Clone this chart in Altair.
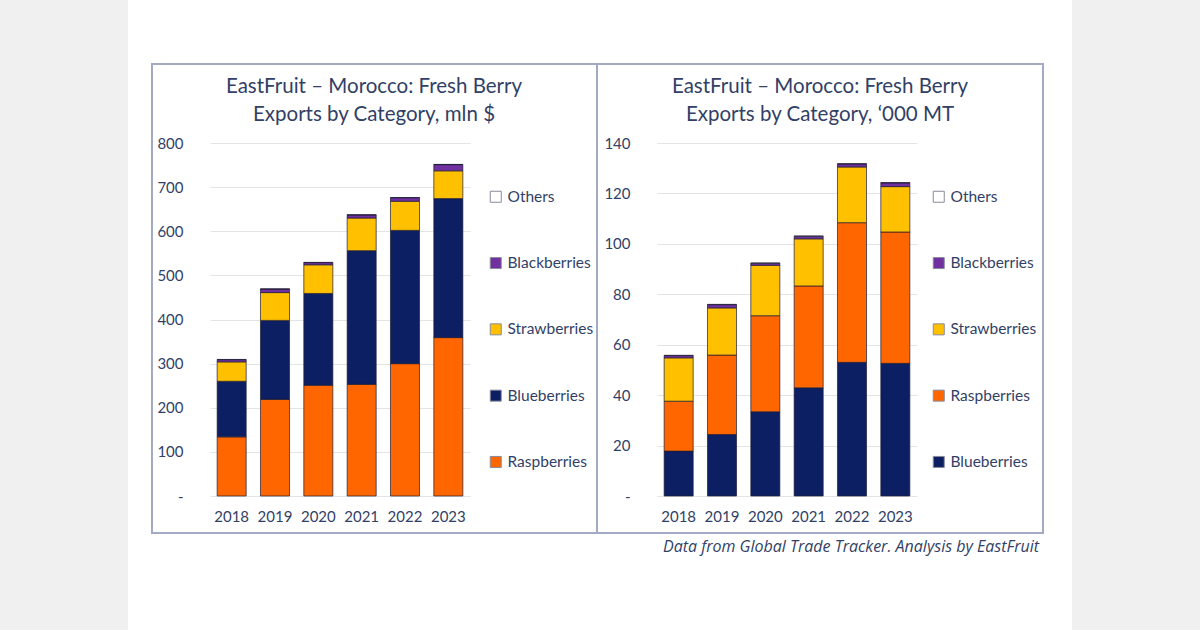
import altair as alt
import pandas as pd

FONT = "Lato"
TXT = "#323f66"

years = ["2018", "2019", "2020", "2021", "2022", "2023"]

# Panel 1: value, mln $
val_raspberries = [134, 219, 251, 253, 300, 359]
val_blueberries = [126, 179, 208, 303, 302, 315]
val_strawberries = [44, 63, 65, 74, 66, 63]
val_blackberries = [5, 8, 5, 7, 8, 14]
val_others = [0.5, 0.5, 0.5, 0.5, 0.5, 0.5]

# Panel 2: volume, '000 MT
vol_blueberries = [17.8, 24.4, 33.4, 42.9, 53.0, 52.6]
vol_raspberries = [19.8, 31.5, 38.1, 40.4, 55.4, 52.1]
vol_strawberries = [17.2, 18.7, 20.0, 18.7, 22.1, 18.0]
vol_blackberries = [0.9, 1.3, 0.8, 1.0, 1.2, 1.5]
vol_others = [0.1, 0.1, 0.1, 0.1, 0.1, 0.1]

COLORS = {
    "Others": "#ffffff",
    "Blackberries": "#7030a0",
    "Strawberries": "#ffc000",
    "Blueberries": "#0c1f63",
    "Raspberries": "#ff6600",
}

left_title = ["EastFruit \u2013 Morocco: Fresh Berry", "Exports by Category, mln $"]
right_title = ["EastFruit \u2013 Morocco: Fresh Berry", "Exports by Category, \u2018000 MT"]
footer = "Data from Global Trade Tracker. Analysis by EastFruit"


def panel(series, stack_order, ymax, ystep, title_lines, legend_x, title_x, border, strip, footer_text=None):
    rows = []
    for i, cat in enumerate(stack_order):
        for y, v in zip(years, series[cat]):
            rows.append({"year": y, "cat": cat, "value": v, "ord": i})
    df = pd.DataFrame(rows)
    legend_order = list(reversed(stack_order))
    one = pd.DataFrame({"a": [0]})

    bars = alt.Chart(df).mark_bar(stroke="#1d1d35", strokeWidth=0.7).encode(
        x=alt.X("year:N", scale=alt.Scale(paddingInner=0.33, paddingOuter=0.165),
                axis=alt.Axis(title=None, labelAngle=0, ticks=False, domain=False, grid=False,
                              labelFontSize=15, labelPadding=13, labelColor=TXT, labelFont=FONT)),
        y=alt.Y("value:Q", stack="zero", scale=alt.Scale(domain=[0, ymax], nice=False),
                axis=alt.Axis(title=None, values=list(range(0, ymax + 1, ystep)), ticks=False, domain=False,
                              gridColor="#e4e4e4", gridWidth=1, labelFontSize=15, labelPadding=27,
                              labelColor=TXT, labelFont=FONT,
                              labelExpr="datum.value == 0 ? '-' : datum.label")),
        color=alt.Color("cat:N", scale=alt.Scale(domain=legend_order, range=[COLORS[c] for c in legend_order]),
                        legend=alt.Legend(title=None, orient="none", legendX=legend_x, legendY=46,
                                          symbolType="square", symbolSize=121, symbolStrokeColor="#8a8a9a",
                                          symbolStrokeWidth=1, labelFontSize=15.5, labelFont=FONT,
                                          labelColor=TXT, labelOffset=4, rowPadding=49.3, padding=0)),
        order=alt.Order("ord:Q", sort="ascending"),
    )

    strip_rect = alt.Chart(one).mark_rect(color="#f0f0f0").encode(
        x=alt.value(strip[0]), x2=alt.value(strip[1]), y=alt.value(-143), y2=alt.value(487))
    border_rect = alt.Chart(one).mark_rect(fillOpacity=0, stroke="#a3aac4", strokeWidth=2).encode(
        x=alt.value(border[0]), x2=alt.value(border[1]), y=alt.value(-79), y2=alt.value(390))
    title = alt.Chart(one).mark_text(text=title_lines, align="center", baseline="alphabetic", fontSize=20.5,
                                     lineHeight=28, font=FONT, color=TXT).encode(
        x=alt.value(title_x), y=alt.value(-50))
    layers = [strip_rect, border_rect, bars, title]
    if footer_text:
        foot = alt.Chart(one).mark_text(text=footer_text, align="right", baseline="alphabetic", fontSize=16,
                                        fontStyle="italic", font="Open Sans", color=TXT).encode(
            x=alt.value(382), y=alt.value(409))
        layers.append(foot)
    return alt.layer(*layers).properties(width=260, height=353)


left = panel(
    {"Raspberries": val_raspberries, "Blueberries": val_blueberries, "Strawberries": val_strawberries,
     "Blackberries": val_blackberries, "Others": val_others},
    ["Raspberries", "Blueberries", "Strawberries", "Blackberries", "Others"],
    800, 100, left_title, 278, 164, (-58, 387), (-210, -82))

right = panel(
    {"Blueberries": vol_blueberries, "Raspberries": vol_raspberries, "Strawberries": vol_strawberries,
     "Blackberries": vol_blackberries, "Others": vol_others},
    ["Blueberries", "Raspberries", "Strawberries", "Blackberries", "Others"],
    140, 20, right_title, 274, 163, (-60, 386), (415, 543), footer_text=footer)

chart = alt.hconcat(left, right, spacing=187, bounds="flush").resolve_scale(
    color="independent", y="independent", x="independent"
).properties(padding=0, background="white").configure_view(strokeWidth=0)

chart.save("out.html", embed_options={"renderer": "svg", "actions": False})
